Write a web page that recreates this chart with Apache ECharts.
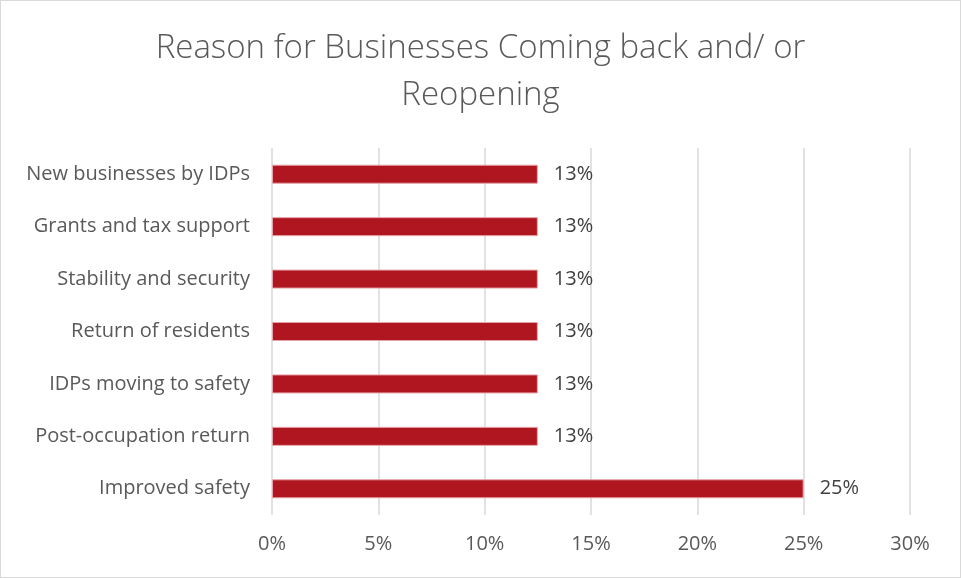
<!DOCTYPE html>
<html>
<head>
<meta charset="utf-8">
<script src="https://cdn.jsdelivr.net/npm/echarts@6/dist/echarts.min.js"></script>
<style>
  html, body { margin: 0; padding: 0; background: #fff; }
  #chart { width: 961px; height: 578px; box-sizing: border-box; border: 1px solid #d9d9d9; }
</style>
</head>
<body>
<div id="chart"></div>
<script>
// Reasons, listed from the bottom of the axis to the top
const categories = [
  'Improved safety',
  'Post-occupation return',
  'IDPs moving to safety',
  'Return of residents',
  'Stability and security',
  'Grants and tax support',
  'New businesses by IDPs'
];
// Share of responses, percent
const shares = [25, 12.5, 12.5, 12.5, 12.5, 12.5, 12.5];
const xTicks = [0, 5, 10, 15, 20, 25, 30];

const font = 'Open Sans';
const chart = echarts.init(document.getElementById('chart'));
chart.setOption({
  animation: false,
  title: {
    text: 'Reason for Businesses Coming back and/ or\nReopening',
    left: 'center',
    top: 19,
    textStyle: { fontFamily: font, fontWeight: 300, fontSize: 33, color: '#595959', lineHeight: 47 }
  },
  grid: { left: 271, right: 50, top: 147, bottom: 62 },
  xAxis: {
    type: 'value',
    min: xTicks[0],
    max: xTicks[xTicks.length - 1],
    interval: 5,
    axisLine: { show: false },
    axisTick: { show: false },
    splitLine: { lineStyle: { color: '#d9d9d9', width: 1.5 } },
    axisLabel: { formatter: v => v + '%', fontFamily: font, fontSize: 20, color: '#595959', margin: 19 }
  },
  yAxis: {
    type: 'category',
    data: categories,
    axisLine: { show: false },
    axisTick: { show: false },
    axisLabel: { fontFamily: font, fontSize: 20, color: '#595959', margin: 22 }
  },
  series: [{
    type: 'bar',
    data: shares,
    barWidth: 19,
    itemStyle: { color: '#b0161f', borderColor: '#e6a3a7', borderWidth: 1 },
    label: {
      show: true,
      position: 'right',
      distance: 16,
      formatter: p => Math.round(p.value) + '%',
      fontFamily: font, fontSize: 20, color: '#404040'
    }
  }]
});
</script>
</body>
</html>
